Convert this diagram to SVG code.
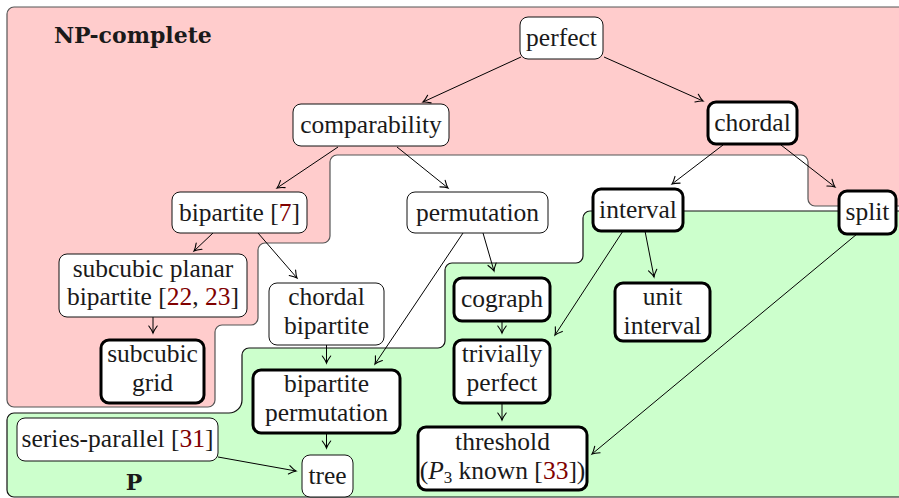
<svg xmlns="http://www.w3.org/2000/svg" width="899" height="498" viewBox="0 0 899 498">
<style>
  .t { font-family: "Liberation Serif", "Times New Roman", serif; font-size: 25.5px; fill: #1a1a1a; text-anchor: middle; }
  .lbl { font-family: "DejaVu Serif", "Liberation Serif", serif; font-size: 22px; font-weight: bold; fill: #1a1a1a; }
  .cite { fill: #800000; }
  .n { fill: #ffffff; stroke: #111; stroke-width: 1; }
  .nb { fill: #ffffff; stroke: #000; stroke-width: 3; }
  .e { stroke: #000; stroke-width: 1; fill: none; marker-end: url(#arr); }
</style>
<defs>
  <marker id="arr" markerUnits="userSpaceOnUse" markerWidth="16" markerHeight="16" viewBox="-10 -8 12 16" refX="0" refY="0" orient="auto">
    <path d="M -7,-4.2 Q -2.5,-0.8 0,0 Q -2.5,0.8 -7,4.2" fill="none" stroke="#000" stroke-width="1.1" stroke-linecap="round"/>
  </marker>
</defs>
<rect x="0" y="0" width="899" height="498" fill="#ffffff"/>
<g id="regions">
  <path id="np-region" d="M 14,7 H 910 V 206 H 815 A 7 7 0 0 1 808 199 V 162 A 7 7 0 0 0 801 155 H 337 A 7 7 0 0 0 330 162 V 236 A 7 7 0 0 1 323 243 H 265 A 7 7 0 0 0 258 250 V 318 A 7 7 0 0 1 251 325 H 222 A 7 7 0 0 0 215 332 V 400 A 7 7 0 0 1 208 407 H 14 A 7 7 0 0 1 7 400 V 14 A 7 7 0 0 1 14 7 Z" fill="#ffcccc" stroke="#555" stroke-width="1.2"/>
  <path id="p-region" d="M 7,420 A 7 7 0 0 1 14 413 H 229 A 13 13 0 0 0 242 400 V 355 A 7 7 0 0 1 249 348 H 438 A 7 7 0 0 0 445 341 V 270 A 7 7 0 0 1 452 263 H 576 A 7 7 0 0 0 583 256 V 218 A 7 7 0 0 1 590 211 H 910 V 497 H 14 A 7 7 0 0 1 7 490 Z" fill="#ccffcc" stroke="#111" stroke-width="1.2"/>
  <text class="lbl" x="54" y="43">NP-complete</text>
  <text class="lbl" x="134" y="490" text-anchor="middle">P</text>
</g>
<g id="connectors">
  <line class="e" x1="521" y1="57" x2="423" y2="102"/>
  <line class="e" x1="604" y1="57" x2="703" y2="101"/>
  <line class="e" x1="338" y1="147" x2="277" y2="188"/>
  <line class="e" x1="397" y1="147" x2="448" y2="188"/>
  <line class="e" x1="723" y1="145" x2="672" y2="184"/>
  <line class="e" x1="781" y1="145" x2="835" y2="187"/>
  <line class="e" x1="213" y1="233" x2="194" y2="251"/>
  <line class="e" x1="258" y1="233" x2="297" y2="278"/>
  <line class="e" x1="463" y1="233" x2="375" y2="364"/>
  <line class="e" x1="483" y1="233" x2="494" y2="271"/>
  <line class="e" x1="623" y1="231" x2="555" y2="335"/>
  <line class="e" x1="645" y1="231" x2="654" y2="277"/>
  <line class="e" x1="857" y1="234" x2="592" y2="454"/>
  <line class="e" x1="153" y1="317" x2="153" y2="333"/>
  <line class="e" x1="326.5" y1="345" x2="326.5" y2="363"/>
  <line class="e" x1="502" y1="321" x2="502" y2="333"/>
  <line class="e" x1="502" y1="403" x2="502" y2="420"/>
  <line class="e" x1="326.5" y1="433" x2="326.5" y2="448"/>
  <line class="e" x1="218" y1="457" x2="296" y2="471"/>
</g>
<g id="perfect"><rect class="n" x="520" y="17" width="83" height="42" rx="8"/><text class="t" x="561.5" y="46">perfect</text></g>
<g id="comparability"><rect class="n" x="293" y="104" width="156" height="42" rx="8"/><text class="t" x="371" y="133">comparability</text></g>
<g id="chordal"><rect class="nb" x="708" y="102" width="89" height="42" rx="8"/><text class="t" x="752.5" y="131">chordal</text></g>
<g id="bipartite"><rect class="n" x="172" y="192" width="135" height="41" rx="8"/><text class="t" x="239.5" y="220.5">bipartite [<tspan class="cite">7</tspan>]</text></g>
<g id="permutation"><rect class="n" x="407" y="192" width="141" height="41" rx="8"/><text class="t" x="477.5" y="220.5">permutation</text></g>
<g id="interval"><rect class="nb" x="593" y="189" width="90" height="42" rx="8"/><text class="t" x="638" y="218">interval</text></g>
<g id="split"><rect class="nb" x="839" y="191" width="57" height="43" rx="8"/><text class="t" x="867.5" y="220">split</text></g>
<g id="subcubic-planar-bipartite"><rect class="n" x="59" y="254" width="188" height="63" rx="8"/><text class="t" x="153" y="276.5">subcubic planar</text><text class="t" x="153" y="305">bipartite [<tspan class="cite">22</tspan>, <tspan class="cite">23</tspan>]</text></g>
<g id="chordal-bipartite"><rect class="n" x="269" y="283" width="115" height="62" rx="8"/><text class="t" x="326.5" y="305">chordal</text><text class="t" x="326.5" y="334">bipartite</text></g>
<g id="cograph"><rect class="nb" x="454" y="278" width="96" height="43" rx="8"/><text class="t" x="502" y="307">cograph</text></g>
<g id="unit-interval"><rect class="nb" x="615" y="283" width="95" height="58" rx="8"/><text class="t" x="662.5" y="305">unit</text><text class="t" x="662.5" y="334">interval</text></g>
<g id="subcubic-grid"><rect class="nb" x="101" y="340" width="103" height="63" rx="8"/><text class="t" x="152.5" y="362">subcubic</text><text class="t" x="152.5" y="391">grid</text></g>
<g id="trivially-perfect"><rect class="nb" x="454" y="340" width="96" height="63" rx="8"/><text class="t" x="502" y="362">trivially</text><text class="t" x="502" y="391">perfect</text></g>
<g id="bipartite-permutation"><rect class="nb" x="253" y="370" width="147" height="63" rx="8"/><text class="t" x="326.5" y="392">bipartite</text><text class="t" x="326.5" y="421">permutation</text></g>
<g id="series-parallel"><rect class="n" x="17" y="418" width="201" height="43" rx="8"/><text class="t" x="117.5" y="447">series-parallel [<tspan class="cite">31</tspan>]</text></g>
<g id="tree"><rect class="n" x="302" y="455" width="51" height="42" rx="8"/><text class="t" x="327.5" y="484">tree</text></g>
<g id="threshold"><rect class="nb" x="418" y="427" width="169" height="63" rx="8"/><text class="t" x="502.5" y="450">threshold</text><text class="t" x="502.5" y="479">(<tspan font-style="italic">P</tspan><tspan font-size="17" dy="4">3</tspan><tspan dy="-4"> known [</tspan><tspan class="cite">33</tspan>])</text></g>
</svg>
